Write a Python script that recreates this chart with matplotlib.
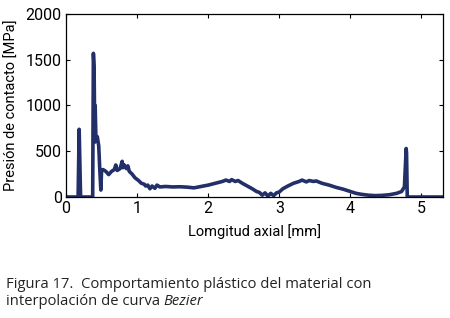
import matplotlib
matplotlib.use("Agg")
import matplotlib.pyplot as plt

# contact pressure along the axial length
longitud = [0.0, 0.17, 0.185, 0.205, 0.375, 0.385, 0.395, 0.405, 0.41, 0.42,
            0.44, 0.46, 0.475, 0.49, 0.50, 0.52, 0.56, 0.60, 0.64, 0.68,
            0.70, 0.72, 0.76, 0.79, 0.80, 0.82, 0.85, 0.87, 0.89, 0.93,
            0.97, 1.02, 1.06, 1.10, 1.12, 1.15, 1.18, 1.21, 1.25, 1.28,
            1.32, 1.40, 1.50, 1.60, 1.70, 1.80, 1.90, 2.00, 2.10, 2.20,
            2.25, 2.30, 2.33, 2.38, 2.42, 2.48, 2.55, 2.62, 2.68, 2.72,
            2.76, 2.80, 2.84, 2.88, 2.92, 2.96, 3.00, 3.05, 3.12, 3.20,
            3.28, 3.32, 3.38, 3.42, 3.48, 3.52, 3.60, 3.70, 3.80, 3.90,
            4.00, 4.08, 4.15, 4.25, 4.35, 4.45, 4.55, 4.65, 4.72, 4.76,
            4.785, 4.79, 4.80, 5.30]
presion = [0, 0, 740, 0, 0, 1570, 1420, 600, 1000, 650,
           660, 560, 300, 76, 290, 300, 280, 245, 280, 300,
           350, 290, 310, 390, 320, 350, 310, 340, 280, 250,
           210, 180, 150, 140, 120, 130, 90, 120, 95, 130,
           110, 115, 110, 112, 108, 100, 115, 130, 150, 170,
           185, 170, 190, 170, 180, 150, 120, 90, 60, 50,
           20, 45, 10, 40, 15, 45, 55, 90, 120, 150,
           170, 185, 165, 180, 170, 175, 150, 130, 105, 85,
           60, 40, 30, 20, 15, 18, 25, 40, 60, 110,
           530, 480, 0, 0]

xticks = [0, 1, 2, 3, 4, 5]
yticks = [0, 500, 1000, 1500, 2000]

tick_font = ['Roboto', 'DejaVu Sans']
cap_font = ['Open Sans', 'DejaVu Sans']

fig = plt.figure(figsize=(4.5, 3.18), dpi=100)
ax = fig.add_axes([0.1467, 0.3805, 0.8373, 0.5755])

ax.plot(longitud, presion, color='#232f68', linewidth=2.6, solid_joinstyle='round')

ax.set_xlim(0, 5.3)
ax.set_ylim(0, 2000)
ax.set_xticks(xticks)
ax.set_yticks(yticks)
ax.tick_params(direction='in', top=True, right=True, length=3, width=0.8,
               labelsize=11.5, pad=3)
for lab in ax.get_xticklabels() + ax.get_yticklabels():
    lab.set_family(tick_font)
for sp in ax.spines.values():
    sp.set_linewidth(0.9)

ax.set_xlabel('Lomgitud axial [mm]', family=tick_font, fontsize=10.5, labelpad=6)
ax.set_ylabel('Presión de contacto [MPa]', family=tick_font, fontsize=10.5, labelpad=5)

# figure caption
t1 = fig.text(0.013, 0.094, 'Figura 17.  Comportamiento plástico del material con',
              family=cap_font, fontsize=10.6, color='#222222', va='baseline')
t2 = fig.text(0.013, 0.041, 'interpolación de curva ', family=cap_font, fontsize=10.6,
              color='#222222', va='baseline')
ax.annotate('Bezier', xy=(1, 0), xycoords=t2, ha='left', va='bottom',
            family=cap_font, fontsize=10.6, style='italic', color='#222222',
            annotation_clip=False)

fig.savefig('out.png', dpi=100)
